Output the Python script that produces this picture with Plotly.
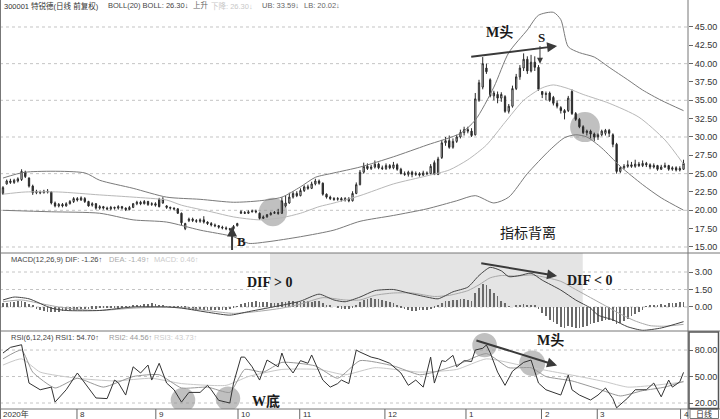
import plotly.graph_objects as go
from plotly.subplots import make_subplots

# ---------------- data ----------------
open_px = [22.3, 23.6, 24.0, 23.8, 24.0, 24.2, 25.2, 24.4, 23.3, 22.4,
           22.5, 22.4, 22.6, 22.5, 21.0, 20.6, 20.8, 20.6, 20.9, 21.2,
           21.6, 21.4, 21.6, 21.2, 20.7, 20.9, 20.3, 20.5, 20.3, 20.2,
           20.4, 20.3, 20.5, 20.3, 20.1, 20.4, 20.9, 21.1, 20.9, 21.2,
           20.8, 20.9, 21.5, 21.0, 20.6, 20.4, 20.3, 20.2, 19.6, 17.5,
           18.6, 18.8, 18.6, 18.5, 18.7, 18.4, 18.2, 18.0, 17.9, 17.7,
           17.6, 17.5, 17.5, 17.9, 19.6, 19.7, 19.6, 19.8, 19.9, 19.6,
           18.9, 19.1, 19.4, 19.6, 19.7, 19.6, 20.6, 21.0, 21.8, 22.3,
           22.0, 22.7, 23.2, 23.0, 23.6, 24.0, 23.7, 22.2, 21.8, 21.6,
           21.5, 21.6, 21.4, 21.6, 21.3, 22.3, 23.5, 25.2, 26.0, 25.7,
           25.9, 26.3, 25.8, 25.7, 26.1, 25.8, 26.2, 25.6, 25.0, 24.9,
           25.2, 24.9, 25.0, 24.8, 25.1, 25.0, 26.5, 24.9, 27.2, 29.2,
           29.5, 28.6, 29.4, 30.0, 30.6, 31.0, 30.8, 30.3, 35.0, 36.8,
           39.4, 37.8, 35.6, 35.8, 35.3, 35.5, 33.5, 34.2, 36.6, 38.2,
           39.4, 40.6, 39.0, 40.2, 39.5, 36.2, 35.8, 36.0, 35.4, 34.6,
           34.0, 33.6, 33.6, 36.2, 33.2, 32.4, 31.4, 30.6, 30.8, 30.4,
           30.0, 30.3, 30.5, 30.9, 30.3, 29.0, 25.3, 25.8, 26.0, 26.2,
           26.0, 26.3, 26.1, 26.4, 26.2, 25.9, 26.1, 25.6, 25.9, 26.1,
           25.6, 25.8, 25.5, 25.6]
high_px = [23.3, 24.2, 24.3, 24.3, 24.5, 25.6, 25.4, 24.5, 23.5, 22.8,
           22.7, 22.8, 22.9, 22.6, 21.2, 21.0, 21.0, 21.1, 21.4, 21.8,
           21.8, 21.9, 21.8, 21.3, 21.1, 21.0, 20.7, 20.6, 20.5, 20.6,
           20.5, 20.7, 20.6, 20.4, 20.6, 21.0, 21.3, 21.3, 21.4, 21.3,
           21.1, 21.1, 21.7, 21.8, 20.7, 20.5, 20.4, 20.3, 19.7, 18.3,
           19.0, 19.0, 18.8, 18.9, 19.2, 18.5, 18.4, 18.2, 18.0, 17.9,
           17.8, 17.6, 18.0, 18.3, 20.0, 19.9, 20.0, 20.1, 20.1, 19.7,
           19.3, 19.5, 19.8, 19.9, 20.2, 21.8, 22.0, 22.4, 22.6, 22.6,
           23.0, 23.4, 23.5, 23.9, 24.3, 24.2, 23.8, 22.3, 22.0, 21.8,
           21.8, 21.8, 21.8, 21.8, 22.6, 23.8, 25.5, 26.5, 26.4, 26.2,
           26.8, 26.5, 26.1, 26.4, 26.3, 26.6, 26.4, 25.8, 25.3, 25.4,
           25.4, 25.3, 25.2, 25.4, 25.3, 26.3, 26.8, 27.3, 29.6, 30.0,
           30.2, 29.8, 30.3, 31.0, 31.4, 31.4, 31.2, 36.0, 37.8, 40.9,
           40.0, 38.0, 36.3, 36.2, 36.1, 35.7, 34.5, 37.0, 38.6, 39.8,
           41.4, 41.0, 41.2, 41.0, 39.8, 36.2, 36.2, 36.2, 35.6, 35.0,
           34.2, 33.8, 35.6, 36.5, 33.4, 32.6, 31.6, 31.0, 31.0, 30.6,
           30.5, 31.0, 31.1, 31.1, 30.5, 29.2, 26.0, 26.3, 26.8, 26.6,
           26.9, 26.6, 26.8, 26.6, 26.4, 26.4, 26.2, 26.2, 26.5, 26.2,
           26.0, 26.0, 26.0, 26.9]
low_px = [22.1, 23.5, 23.6, 23.6, 23.8, 24.0, 24.4, 23.1, 22.1, 22.2,
          22.2, 22.3, 22.3, 20.8, 20.4, 20.4, 20.4, 20.5, 20.8, 21.0,
          21.2, 21.3, 21.0, 20.5, 20.5, 20.1, 20.1, 20.1, 20.0, 20.0,
          20.1, 20.1, 20.1, 19.9, 20.0, 20.3, 20.7, 20.7, 20.8, 20.6,
          20.6, 20.5, 20.4, 20.9, 20.2, 20.1, 20.0, 19.5, 18.0, 17.3,
          18.4, 18.4, 18.3, 18.3, 18.2, 18.0, 17.8, 17.7, 17.5, 17.4,
          17.3, 17.2, 17.3, 17.8, 19.5, 19.5, 19.5, 19.7, 19.6, 18.7,
          18.8, 19.0, 19.3, 19.5, 19.4, 19.5, 20.4, 20.9, 21.6, 21.8,
          21.9, 22.5, 22.8, 22.9, 23.4, 23.5, 22.0, 21.6, 21.4, 21.3,
          21.3, 21.2, 21.2, 21.1, 21.2, 22.2, 23.4, 25.0, 25.5, 25.5,
          25.7, 25.6, 25.5, 25.5, 25.6, 25.6, 25.4, 24.9, 24.7, 24.6,
          24.5, 24.7, 24.6, 24.7, 24.8, 24.9, 24.8, 24.8, 27.0, 28.8,
          28.4, 28.4, 29.2, 29.8, 30.2, 30.5, 30.0, 30.2, 34.8, 36.5,
          38.6, 35.4, 35.0, 34.6, 34.8, 33.3, 33.2, 34.0, 36.4, 37.8,
          39.0, 38.6, 38.8, 39.0, 36.3, 35.3, 35.0, 34.8, 34.3, 33.9,
          33.2, 32.4, 33.4, 33.0, 32.2, 31.2, 30.4, 30.2, 29.8, 29.4,
          29.6, 30.1, 30.2, 30.0, 28.6, 25.0, 25.1, 25.6, 25.8, 25.8,
          25.8, 25.9, 25.9, 25.9, 25.6, 25.7, 25.4, 25.5, 25.8, 25.4,
          25.4, 25.3, 25.3, 25.5]
close_px = [23.1, 24.0, 23.8, 24.1, 24.3, 25.3, 24.6, 23.3, 22.4, 22.6,
            22.4, 22.6, 22.5, 21.0, 20.6, 20.8, 20.6, 20.9, 21.2, 21.6,
            21.4, 21.7, 21.2, 20.6, 20.9, 20.3, 20.5, 20.3, 20.2, 20.4,
            20.3, 20.5, 20.3, 20.1, 20.4, 20.9, 21.1, 20.9, 21.2, 20.8,
            20.9, 20.7, 20.5, 21.5, 20.4, 20.3, 20.2, 19.6, 18.3, 18.2,
            18.8, 18.6, 18.5, 18.7, 18.4, 18.2, 18.0, 17.9, 17.7, 17.6,
            17.5, 17.4, 17.8, 18.2, 19.8, 19.6, 19.8, 19.9, 19.8, 18.9,
            19.1, 19.4, 19.6, 19.7, 19.6, 21.3, 21.0, 21.8, 22.3, 22.0,
            22.7, 23.2, 23.0, 23.6, 24.0, 23.7, 22.2, 21.8, 21.6, 21.5,
            21.6, 21.4, 21.6, 21.3, 22.3, 23.5, 25.2, 26.0, 25.7, 25.9,
            26.3, 25.8, 25.7, 26.1, 25.8, 26.2, 25.6, 25.0, 24.9, 25.2,
            24.9, 25.0, 24.8, 25.1, 25.0, 26.0, 24.9, 27.0, 29.2, 29.5,
            28.6, 29.4, 30.0, 30.6, 31.0, 30.8, 30.2, 35.2, 37.4, 40.0,
            38.9, 35.6, 36.0, 35.3, 35.8, 33.5, 34.2, 36.6, 38.2, 39.4,
            40.6, 39.0, 40.2, 39.5, 36.5, 35.8, 35.9, 35.0, 34.6, 34.2,
            33.6, 33.3, 35.3, 33.2, 32.4, 31.4, 30.6, 30.8, 30.4, 30.0,
            30.3, 30.8, 30.9, 30.5, 29.0, 25.3, 25.8, 26.0, 26.2, 26.0,
            26.3, 26.1, 26.4, 26.2, 25.9, 26.1, 25.6, 25.9, 26.1, 25.6,
            25.8, 25.5, 25.7, 26.4]
day_idx = list(range(len(close_px)))

# Bollinger bands (read at key days)
boll_up_idx = [0, 6, 22, 26, 35, 44, 53, 62, 69, 75, 80, 84, 89, 96, 105, 114, 123, 127, 132,
               136, 141, 144, 148, 150, 152, 155, 159, 163, 168, 172, 177, 183]
boll_up = [24.4, 25.2, 25.1, 24.1, 23.0, 21.8, 21.5, 21.1, 21.3, 21.8, 23.2, 24.5, 25.1, 25.9,
           27.3, 28.9, 30.5, 32.3, 36.8, 41.5, 44.6, 46.6, 47.0, 46.0, 42.3, 41.5, 40.9, 39.5,
           37.8, 36.4, 35.0, 33.59]
boll_mid_idx = [0, 6, 15, 26, 35, 44, 48, 56, 62, 69, 75, 80, 85, 89, 96, 105, 114, 120, 125,
                130, 135, 140, 145, 148, 152, 156, 163, 171, 178, 183]
boll_mid = [22.2, 22.5, 22.5, 22.1, 21.8, 21.4, 20.7, 19.8, 19.1, 18.7, 19.0, 19.6, 20.5, 21.0,
            22.0, 23.6, 24.7, 25.5, 26.9, 28.9, 32.0, 35.0, 36.7, 37.1, 36.6, 35.8, 34.6, 32.7,
            29.6, 26.3]
boll_low_idx = [0, 13, 26, 35, 44, 53, 62, 66, 71, 80, 89, 96, 105, 114, 122, 127, 132, 136,
                141, 147, 151, 154, 157, 161, 166, 172, 177, 183]
boll_low = [20.0, 19.8, 19.6, 18.7, 18.4, 17.3, 16.4, 15.5, 15.7, 16.4, 17.3, 18.5, 19.3, 20.2,
            21.3, 22.0, 21.0, 21.8, 25.0, 28.2, 29.9, 30.3, 30.0, 28.5, 26.0, 23.5, 21.7, 20.02]

# MACD
macd_hist = [0.30, 0.35, 0.40, 0.45, 0.50, 0.50, 0.45,
             0.25, 0.10,
             -0.20, -0.30, -0.35, -0.40, -0.45, -0.45, -0.40,
             -0.35, -0.30, -0.30, -0.25, -0.25, -0.20, -0.20, -0.20, -0.15, -0.15, -0.10,
             -0.10, -0.08, -0.06, -0.05, -0.05, -0.03, 0.02, 0.05,
             0.10, 0.15, 0.20, 0.25, 0.25, 0.30, 0.25, 0.20, 0.15,
             0.08, 0.05, 0.02, -0.05, -0.10, -0.15,
             -0.20, -0.22, -0.25, -0.28, -0.30, -0.30, -0.28, -0.28, -0.25, -0.25, -0.22, -0.20,
             -0.10, 0.05, 0.25, 0.35, 0.40, 0.45, 0.50, 0.45, 0.40, 0.40, 0.35,
             0.30, 0.30, 0.40, 0.45, 0.50, 0.50, 0.45, 0.45, 0.50, 0.50, 0.45, 0.50, 0.55, 0.35,
             0.20, 0.10, 0.00,
             -0.10, -0.15, -0.15, -0.15, -0.05, 0.10,
             0.40, 0.60, 0.70, 0.75, 0.70, 0.65, 0.60, 0.50, 0.40, 0.30,
             0.10,
             -0.10, -0.20, -0.30, -0.35, -0.35, -0.30, -0.30, -0.25, -0.20, -0.10,
             0.10,
             0.30, 0.50, 0.55, 0.60, 0.60, 0.65, 0.70, 0.60,
             0.50, 1.20, 1.60, 2.00, 1.90, 1.50, 1.20, 0.90,
             0.50, 0.30,
             0.05, 0.00, 0.10, 0.20, 0.25, 0.20, 0.20, 0.10,
             -0.20, -0.50, -0.80, -1.10, -1.30, -1.50, -1.70, -1.80, -1.60, -1.70, -1.80, -1.80,
             -1.70, -1.60, -1.50,
             -1.40, -1.30, -1.20, -1.10, -1.10, -1.20, -1.50, -1.40, -1.20, -1.00, -0.80, -0.60,
             -0.40, -0.30,
             0.05, 0.10, 0.15, 0.20, 0.25, 0.20, 0.30, 0.30, 0.35, 0.40, 0.41]
dif_idx = [0, 3, 7, 13, 17, 26, 35, 44, 48, 56, 61, 66, 75, 80, 85, 89, 92, 96, 100, 105, 109,
           114, 117, 121, 125, 128, 131, 134, 136, 139, 142, 145, 150, 154, 158, 160, 164, 168,
           172, 177, 183]
dif = [0.6, 0.85, 0.7, -0.1, -0.3, -0.3, 0.0, 0.0, -0.1, -0.5, -0.7, -0.4, 0.15, 0.5, 1.1, 0.6,
       0.45, 0.85, 1.4, 1.5, 1.2, 0.85, 0.7, 1.3, 1.7, 2.7, 3.4, 3.1, 2.6, 2.7, 2.9, 2.3, 1.45,
       0.6, -0.1, -0.7, -1.1, -1.7, -2.0, -1.8, -1.26]
dea_idx = [0, 5, 10, 15, 20, 26, 35, 44, 50, 56, 62, 68, 75, 80, 86, 92, 96, 100, 105, 110,
           116, 120, 125, 128, 131, 134, 138, 142, 145, 150, 154, 158, 162, 166, 170, 174, 178, 183]
dea = [0.45, 0.6, 0.3, 0.0, -0.2, -0.3, -0.1, 0.0, -0.1, -0.35, -0.55, -0.4, -0.1, 0.25, 0.8,
       0.6, 0.6, 1.0, 1.2, 1.2, 0.9, 1.0, 1.4, 1.9, 2.5, 2.7, 2.65, 2.75, 2.6, 2.2, 1.5, 0.8, 0.1,
       -0.6, -1.2, -1.6, -1.65, -1.49]

# RSI
rsi6_idx = [0, 2, 5, 6, 7, 10, 13, 14, 17, 20, 22, 25, 28, 30, 31, 33, 35, 37, 39, 40, 42, 44,
            46, 48, 50, 53, 55, 56, 58, 61, 62, 64, 65, 67, 69, 71, 74, 75, 76, 78, 80, 82, 83,
            84, 86, 88, 90, 91, 93, 94, 95, 96, 99, 101, 104, 107, 109, 111, 113, 115, 116, 118,
            119, 121, 122, 124, 126, 127, 129, 130, 131, 133, 135, 137, 140, 142, 144, 146, 150,
            152, 153, 155, 158, 160, 162, 164, 165, 168, 170, 173, 175, 177, 179, 180, 182, 183]
rsi6 = [76.6, 83, 86, 65, 42.6, 35, 38, 21, 35, 54, 42.6, 25.7, 25, 46, 43, 29, 61, 54, 63, 46,
        65, 42.6, 35, 21, 32, 32, 40, 35, 23, 20, 42.6, 72, 72, 61, 46, 68.7, 61, 76.6, 65, 54,
        68, 65, 74.4, 65, 46, 38, 42, 46, 42, 61, 80, 77.7, 72, 70, 65, 54, 40, 46, 38, 72, 42.6,
        68, 67, 74, 61, 68, 67, 80, 82, 85.7, 77, 55, 40, 56, 66, 68.7, 42.6, 35, 29, 51.7, 35,
        29, 23.4, 29, 37, 25, 14.5, 25.7, 35, 35, 42.6, 27, 46, 38, 44, 54.7]
rsi12_idx = [0, 5, 8, 14, 20, 27, 35, 42, 48, 55, 61, 65, 70, 75, 84, 90, 96, 105, 112, 116,
             122, 130, 136, 142, 146, 153, 160, 166, 172, 178, 183]
rsi12 = [70, 80, 55, 37, 48, 38, 50, 52, 37, 38, 32, 58, 55, 66, 62, 48, 68, 62, 52, 55, 63,
         76, 60, 60, 50, 45, 36, 28, 34, 38, 44.56]
rsi24_idx = [0, 5, 10, 20, 30, 40, 48, 60, 66, 75, 85, 92, 100, 112, 122, 130, 140, 146, 155,
             162, 168, 175, 183]
rsi24 = [63, 70, 55, 48, 45, 48, 42, 40, 50, 58, 58, 52, 60, 55, 58, 70, 62, 57, 50, 44, 38,
         40, 43.73]

# axis labels / grid values
price_ticks = [15.0, 17.5, 20.0, 22.5, 25.0, 27.5, 30.0, 32.5, 35.0, 37.5, 40.0, 42.5, 45.0]
price_grid = [15, 20, 25, 30, 35, 40, 45]
macd_ticks = [0.0, 1.5, 3.0]
rsi_ticks = [20, 50, 80]
month_pos = [-0.8, 19.9, 41.1, 63.2, 79.8, 102.7, 124.5, 144.8, 159.8, 182.2]
month_txt = ["2020年", "8", "9", "10", "11", "12", "1", "2", "3", "4"]

# ---------------- figure ----------------
W, H = 720, 419
R_M, B_M = 32, 10
PW, PH = W - R_M, H - B_M


def py(ypx):
    return (PH - ypx) / PH


def pxx(xpx):
    return xpx / PW


X_RANGE = [-0.8, 184.2]
SANS = "Liberation Sans, Noto Sans CJK SC, Arial"
SERIF = "Liberation Serif, Noto Sans CJK SC, serif"
DARK = "#2a2a2a"

fig = make_subplots(rows=3, cols=1, shared_xaxes=True, vertical_spacing=0)

fig.add_trace(go.Candlestick(
    x=day_idx, open=open_px, high=high_px, low=low_px, close=close_px,
    increasing=dict(line=dict(color=DARK, width=1), fillcolor="#ffffff"),
    decreasing=dict(line=dict(color=DARK, width=1), fillcolor=DARK),
    whiskerwidth=0, hoverinfo="skip", showlegend=False), row=1, col=1)

for xs, ys, col in [(boll_up_idx, boll_up, "#7a7a7a"),
                    (boll_mid_idx, boll_mid, "#b8b8b8"),
                    (boll_low_idx, boll_low, "#7a7a7a")]:
    fig.add_trace(go.Scatter(x=xs, y=ys, mode="lines",
                             line=dict(color=col, width=1, shape="spline", smoothing=0.7),
                             hoverinfo="skip", showlegend=False), row=1, col=1)

fig.add_trace(go.Bar(x=day_idx, y=macd_hist, width=0.2,
                     marker=dict(color="#6a6a6a", line=dict(width=0)),
                     hoverinfo="skip", showlegend=False), row=2, col=1)
fig.add_trace(go.Scatter(x=dea_idx, y=dea, mode="lines",
                         line=dict(color="#a8a8a8", width=1, shape="spline", smoothing=0.6),
                         hoverinfo="skip", showlegend=False), row=2, col=1)
fig.add_trace(go.Scatter(x=dif_idx, y=dif, mode="lines",
                         line=dict(color="#444444", width=1, shape="spline", smoothing=0.6),
                         hoverinfo="skip", showlegend=False), row=2, col=1)

fig.add_trace(go.Scatter(x=rsi24_idx, y=rsi24, mode="lines",
                         line=dict(color="#c8c8c8", width=1, shape="spline", smoothing=0.5),
                         hoverinfo="skip", showlegend=False), row=3, col=1)
fig.add_trace(go.Scatter(x=rsi12_idx, y=rsi12, mode="lines",
                         line=dict(color="#999999", width=1, shape="spline", smoothing=0.5),
                         hoverinfo="skip", showlegend=False), row=3, col=1)
fig.add_trace(go.Scatter(x=rsi6_idx, y=rsi6, mode="lines",
                         line=dict(color="#333333", width=1),
                         hoverinfo="skip", showlegend=False), row=3, col=1)

axis_common = dict(side="right", ticks="outside", ticklen=4, tickcolor="#666",
                   tickfont=dict(family=SANS, size=9, color="#333"),
                   showgrid=False, zeroline=False, showline=False, tickformat=".2f",
                   fixedrange=True)
fig.update_layout(
    width=W, height=H, margin=dict(l=0, r=R_M, t=0, b=B_M),
    paper_bgcolor="white", plot_bgcolor="white", showlegend=False, bargap=0, boxgap=0.5,
    yaxis=dict(domain=[py(253), 1.0], range=[14.18, 48.68], tickvals=price_ticks, **axis_common),
    yaxis2=dict(domain=[py(331), py(253)], range=[-2.06, 4.63], tickvals=macd_ticks, **axis_common),
    yaxis3=dict(domain=[0, py(333)], range=[13.2, 99.3], tickvals=rsi_ticks, **axis_common),
)
fig.update_xaxes(range=X_RANGE, showticklabels=False, showgrid=False, zeroline=False,
                 showline=False, ticks="", rangeslider_visible=False, fixedrange=True)

shapes = []
# dotted grid lines
for v in price_grid:
    shapes.append(dict(type="line", xref="x domain", x0=0, x1=1, yref="y", y0=v, y1=v,
                       line=dict(color="#c4c4c4", width=1, dash="dot"), layer="below"))
for v in macd_ticks:
    shapes.append(dict(type="line", xref="x2 domain", x0=0, x1=1, yref="y2", y0=v, y1=v,
                       line=dict(color="#c4c4c4", width=1, dash="dot"), layer="below"))
for v in rsi_ticks:
    shapes.append(dict(type="line", xref="x3 domain", x0=0, x1=1, yref="y3", y0=v, y1=v,
                       line=dict(color="#c4c4c4", width=1, dash="dot"), layer="below"))
# shaded MACD zone
shapes.append(dict(type="rect", xref="x2", x0=71.8, x1=155.9, yref="y2", y0=0, y1=4.63,
                   fillcolor="#e4e4e4", line=dict(width=0), layer="below"))
# highlight circles
circ = "rgba(150,150,150,0.6)"
for (cx, cy, rx, ry, xr, yr) in [(72.6, 19.77, 3.8, 1.95, "x", "y"),
                                 (156.5, 31.36, 4.0, 2.05, "x", "y"),
                                 (48.4, 23.4, 3.3, 13.8, "x3", "y3"),
                                 (60.5, 25.0, 3.3, 13.8, "x3", "y3"),
                                 (129.5, 85.5, 3.3, 13.8, "x3", "y3"),
                                 (142.3, 65.0, 3.5, 14.5, "x3", "y3")]:
    shapes.append(dict(type="circle", xref=xr, yref=yr, x0=cx - rx, x1=cx + rx,
                       y0=cy - ry, y1=cy + ry, fillcolor=circ, line=dict(width=0),
                       layer="below"))
# frames
frame = dict(color="#777", width=1)
shapes.append(dict(type="line", xref="paper", yref="paper", x0=1, x1=1, y0=py(419), y1=1, line=frame))
shapes.append(dict(type="line", xref="paper", yref="paper", x0=pxx(0.5), x1=pxx(0.5), y0=py(419), y1=1, line=frame))
for ypx in [253, 331, 409]:
    shapes.append(dict(type="line", xref="paper", yref="paper", x0=0, x1=pxx(720),
                       y0=py(ypx), y1=py(ypx), line=frame))
shapes.append(dict(type="rect", xref="paper", yref="paper", x0=pxx(689), x1=pxx(718.5),
                   y0=py(408.5), y1=py(332), line=dict(color="#555", width=1.5)))
shapes.append(dict(type="rect", xref="paper", yref="paper", x0=pxx(690), x1=pxx(718.5),
                   y0=py(418.5), y1=py(409.5), line=dict(color="#777", width=1)))
# month ticks on the date row
for mpos in month_pos:
    shapes.append(dict(type="line", xref="x3", yref="paper", x0=mpos, x1=mpos,
                       y0=py(409), y1=py(419), line=dict(color="#666", width=1)))
fig.update_layout(shapes=shapes)

ann = []
for mpos, t in zip(month_pos, month_txt):
    ann.append(dict(x=mpos + 0.3, y=py(414), xref="x3", yref="paper", text=t,
                    showarrow=False, xanchor="left", yanchor="middle", xshift=0,
                    font=dict(family=SANS, size=8, color="#333")))
ann.append(dict(x=pxx(704), y=py(414), xref="paper", yref="paper", text="日线", showarrow=False,
                xanchor="center", yanchor="middle", font=dict(family=SANS, size=8, color="#333")))


# headers
def hdr(xpx, ypx, t, col):
    ann.append(dict(x=pxx(xpx), y=py(ypx), xref="paper", yref="paper", text=t,
                    showarrow=False, xanchor="left", yanchor="middle",
                    font=dict(family=SANS, size=7.5, color=col)))


hdr(2, 6, "300001 特锐德(日线 前复权)", "#333")
hdr(106, 6, "BOLL(20) BOLL: 26.30↓", "#444")
hdr(191, 6, "上升", "#666")
hdr(209, 6, "下降: 26.30↓", "#c8c8c8")
hdr(260, 6, "UB: 33.59↓", "#666")
hdr(302, 6, "LB: 20.02↓", "#666")
hdr(9, 259, "MACD(12,26,9) DIF: -1.26↑", "#444")
hdr(107, 259, "DEA: -1.49↑", "#aaa")
hdr(152, 259, "MACD: 0.46↑", "#ccc")
hdr(9, 337, "RSI(6,12,24) RSI1: 54.70↑", "#444")
hdr(107, 337, "RSI2: 44.56↑", "#999")
hdr(152, 337, "RSI3: 43.73↑", "#ccc")


# big annotations
def txt(x, y, xr, yr, t, size=14, fam=SERIF):
    ann.append(dict(x=x, y=y, xref=xr, yref=yr, text=t, showarrow=False,
                    xanchor="center", yanchor="middle",
                    font=dict(family=fam, size=size, color="#1a1a1a")))


def arrow(x0, y0, x1, y1, xr, yr, w=2, head=2, size=1.0):
    ann.append(dict(x=x1, y=y1, ax=x0, ay=y0, xref=xr, yref=yr, axref=xr, ayref=yr,
                    text="", showarrow=True, arrowhead=head, arrowsize=size, arrowwidth=w,
                    arrowcolor="#3a3a3a"))


txt(133.6, 44.2, "x", "y", "<b>M头</b>")
txt(144.7, 43.6, "x", "y", "<b>S</b>", size=13)
arrow(125.5, 40.9, 149.0, 42.4, "x", "y", w=2)
arrow(144.4, 42.6, 144.4, 40.0, "x", "y", w=1, size=1.2)
arrow(61.6, 14.4, 61.6, 17.8, "x", "y", w=2)
txt(64.2, 15.8, "x", "y", "<b>B</b>", size=13)
txt(141.1, 17.1, "x", "y", "指标背离", size=14, fam="Noto Sans CJK SC")
txt(71.8, 2.14, "x2", "y2", "<b>DIF &gt; 0</b>")
txt(157.8, 2.23, "x2", "y2", "<b>DIF &lt; 0</b>")
arrow(128.2, 3.77, 149.0, 2.66, "x2", "y2", w=2)
txt(147.3, 90.5, "x3", "y3", "<b>M头</b>")
arrow(126.9, 91.3, 149.0, 62.5, "x3", "y3", w=2)
txt(70.8, 22.5, "x3", "y3", "<b>W底</b>")

fig.update_layout(annotations=ann)
fig.write_html("out.html")
